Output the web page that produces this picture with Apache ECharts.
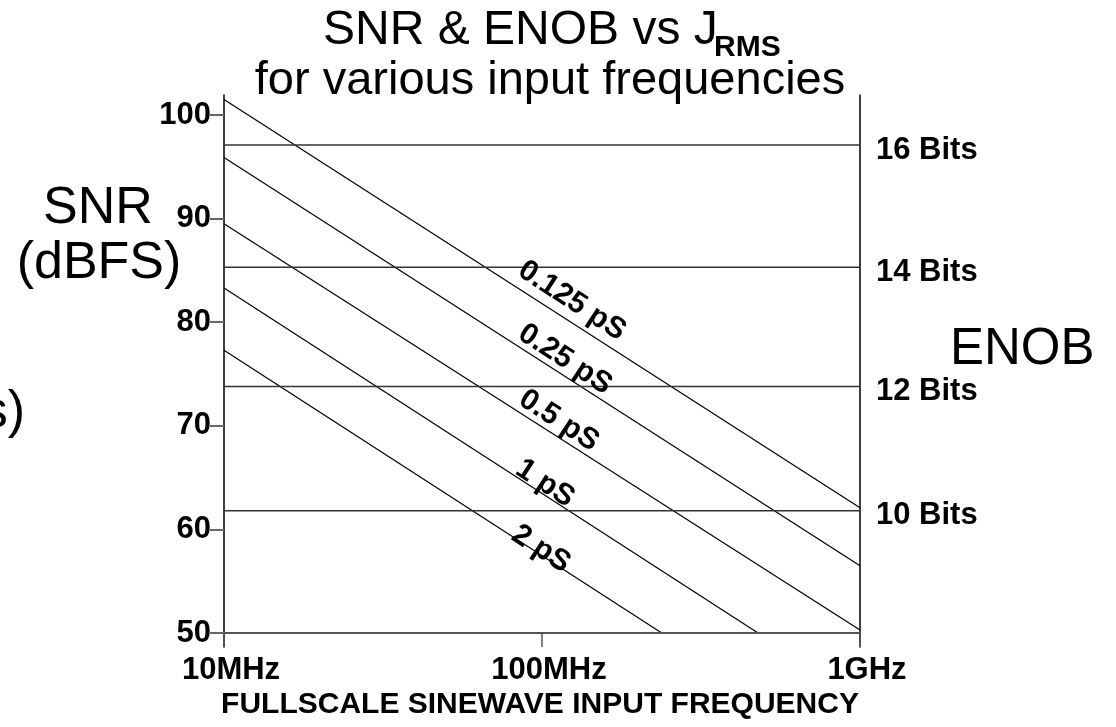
<!DOCTYPE html>
<html>
<head>
<meta charset="utf-8">
<script src="https://cdn.jsdelivr.net/npm/echarts@6/dist/echarts.min.js"></script>
<style>
  html, body { margin: 0; padding: 0; background: #fff; }
  #chart { width: 1116px; height: 727px; }
</style>
</head>
<body>
<div id="chart"></div>
<script>
// x axis (log) ticks
var freqTicks = [1e7, 1e8, 1e9];
var freqTickLabels = ['10MHz', '100MHz', '1GHz'];
// left axis ticks
var snrTicks = [50, 60, 70, 80, 90, 100];

// jitter lines: start / end points
var jitterNames = ['0.125 pS', '0.25 pS', '0.5 pS', '1 pS', '2 pS'];
var jitterStartFreq = [1e7, 1e7, 1e7, 1e7, 1e7];
var jitterStartSnr = [101.5, 95.9, 89.5, 83.3, 77.3];
var jitterEndFreq = [1e9, 1e9, 1e9, 4.78e8, 2.38e8];
var jitterEndSnr = [62.1, 56.5, 50.3, 50, 50];

// ENOB reference lines
var enobNames = ['16 Bits', '14 Bits', '12 Bits', '10 Bits'];
var enobSnr = [97.1, 85.3, 73.8, 61.8];

// where the jitter labels sit along their lines
var labelFreq = [1.242e8, 1.181e8, 1.13e8, 1.022e8, 0.993e8];
var labelLift = [22, 17, 17, 12, 6];

var FONT = '"Liberation Sans", Arial, Helvetica, sans-serif';
var ANGLE = 33;
var myChart = echarts.init(document.getElementById('chart'));

function onLine(i, f) {
  var a = Math.log10(jitterStartFreq[i]), b = Math.log10(jitterEndFreq[i]);
  var t = (Math.log10(f) - a) / (b - a);
  return jitterStartSnr[i] + (jitterEndSnr[i] - jitterStartSnr[i]) * t;
}

var sA = Math.sin(ANGLE * Math.PI / 180), cA = Math.cos(ANGLE * Math.PI / 180);
var series = [];
jitterNames.forEach(function (name, i) {
  var L = labelLift[i];
  series.push({
    name: name,
    type: 'line',
    yAxisIndex: 0,
    showSymbol: false,
    silent: true,
    lineStyle: { color: '#000', width: 1.2 },
    data: [[jitterStartFreq[i], jitterStartSnr[i]], [jitterEndFreq[i], jitterEndSnr[i]]],
    markPoint: {
      symbol: 'circle',
      symbolSize: 0,
      label: {
        show: true,
        position: 'inside',
        formatter: name,
        rotate: -ANGLE,
        // offset is in the rotated frame: this lifts the label straight up by L px
        offset: [-L * sA, -L * cA],
        color: '#000',
        fontFamily: FONT,
        fontWeight: 'bold',
        fontSize: 30
      },
      data: [{ coord: [labelFreq[i], onLine(i, labelFreq[i])] }]
    },
    // bottom line at 50 dB
    markLine: i === 0 ? {
      symbol: 'none',
      silent: true,
      label: { show: false },
      lineStyle: { color: '#555', width: 2, type: 'solid' },
      data: [{ yAxis: snrTicks[0] }]
    } : undefined
  });
});
enobNames.forEach(function (name, i) {
  series.push({
    name: name,
    type: 'line',
    yAxisIndex: 0,
    showSymbol: false,
    silent: true,
    lineStyle: { color: '#333', width: 1.5 },
    data: [[freqTicks[0], enobSnr[i]], [freqTicks[2], enobSnr[i]]],
    endLabel: {
      show: true,
      formatter: '{a}',
      distance: 16,
      offset: [0, 5],
      color: '#000',
      fontFamily: FONT,
      fontWeight: 'bold',
      fontSize: 31
    }
  });
});

var option = {
  animation: false,
  backgroundColor: '#fff',
  grid: { left: 224, right: 256, top: 95, bottom: 80 },
  xAxis: {
    type: 'log',
    logBase: 10,
    min: freqTicks[0],
    max: freqTicks[2],
    axisLine: { show: false },
    splitLine: { show: false },
    axisTick: { show: true, inside: true, length: 14, lineStyle: { color: '#555', width: 1.5 } },
    minorTick: { show: false },
    axisLabel: {
      margin: 8,
      padding: [0, 0, 0, 14],
      color: '#000',
      fontFamily: FONT,
      fontWeight: 'bold',
      fontSize: 31,
      showMinLabel: true,
      showMaxLabel: true,
      formatter: function (v) {
        var k = Math.round(Math.log10(v)) - 7;
        return freqTickLabels[k] || '';
      }
    }
  },
  yAxis: [{
    type: 'value',
    position: 'left',
    min: 48.65,
    max: 101.93,
    splitLine: { show: false },
    axisLine: { show: true, lineStyle: { color: '#000', width: 1.5 } },
    axisTick: { show: true, length: 14, customValues: snrTicks, lineStyle: { color: '#666', width: 2 } },
    axisLabel: {
      customValues: snrTicks,
      margin: 13,
      color: '#000',
      fontFamily: FONT,
      fontWeight: 'bold',
      fontSize: 31
    }
  }, {
    type: 'value',
    position: 'right',
    min: 48.65,
    max: 101.93,
    splitLine: { show: false },
    axisLine: { show: true, lineStyle: { color: '#000', width: 1.5 } },
    axisTick: { show: false },
    axisLabel: { show: false }
  }],
  graphic: [
    { type: 'text', x: 323, y: 31, style: { text: 'SNR & ENOB vs J', font: '48px ' + FONT, fill: '#000', align: 'left', verticalAlign: 'middle' } },
    { type: 'text', x: 714, y: 48, style: { text: 'RMS', font: 'bold 30px ' + FONT, fill: '#000', align: 'left', verticalAlign: 'middle' } },
    { type: 'text', x: 550, y: 81, style: { text: 'for various input frequencies', font: '47px ' + FONT, fill: '#000', align: 'center', verticalAlign: 'middle' } },
    { type: 'text', x: 98, y: 209, style: { text: 'SNR', font: '52px ' + FONT, fill: '#000', align: 'center', verticalAlign: 'middle' } },
    { type: 'text', x: 99, y: 264, style: { text: '(dBFS)', font: '52px ' + FONT, fill: '#000', align: 'center', verticalAlign: 'middle' } },
    { type: 'text', x: 950, y: 350, style: { text: 'ENOB', font: '51px ' + FONT, fill: '#000', align: 'left', verticalAlign: 'middle' } },
    { type: 'text', x: 25, y: 413, style: { text: '(Bits)', font: '52px ' + FONT, fill: '#000', align: 'right', verticalAlign: 'middle' } },
    { type: 'text', x: 540, y: 705, style: { text: 'FULLSCALE SINEWAVE INPUT FREQUENCY', font: 'bold 30px ' + FONT, fill: '#000', align: 'center', verticalAlign: 'middle' } }
  ],
  series: series
};

myChart.setOption(option);
</script>
</body>
</html>
